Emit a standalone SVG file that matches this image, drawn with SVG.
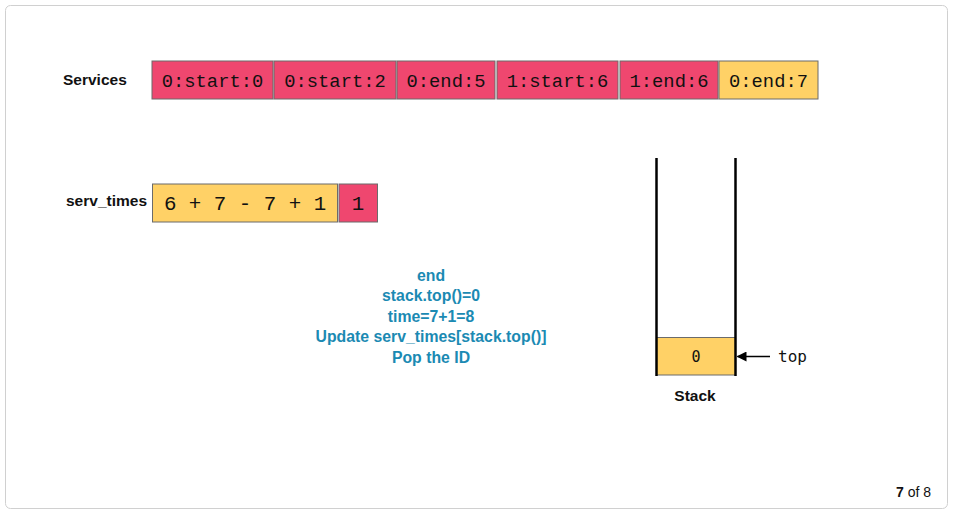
<svg xmlns="http://www.w3.org/2000/svg" width="954" height="513" viewBox="0 0 954 513">
<style>
.frame{fill:#fff;stroke:#d0d0d0;stroke-width:1}
.pink{fill:#ef476f;stroke:#6b6b6b;stroke-width:1}
.yel{fill:#ffd166;stroke:#6b6b6b;stroke-width:1}
.mono{font-family:"Liberation Mono","Courier New",monospace;fill:#111;text-anchor:middle}
.lbl{font-family:"Liberation Sans",Arial,sans-serif;font-weight:bold;font-size:15.5px;fill:#111}
.blue{font-family:"Liberation Sans",Arial,sans-serif;font-weight:bold;font-size:15.8px;fill:#1b8ab3;text-anchor:middle}
.dj{font-family:"DejaVu Sans Mono",monospace;fill:#111}
</style>
<defs>
<marker id="ah" markerWidth="10" markerHeight="10" refX="9" refY="5" orient="auto" markerUnits="userSpaceOnUse">
<path d="M0,0 L10,5 L0,10 z" fill="#000"/>
</marker>
</defs>
<rect class="frame" x="5.5" y="5.5" width="942" height="503" rx="5"/>
<g id="services">
<text class="lbl" x="63" y="85">Services</text>
<g id="s1"><rect class="pink" x="152" y="61" width="121" height="38"/><text class="mono" font-size="18.8" x="212.5" y="86.5">0:start:0</text></g>
<g id="s2"><rect class="pink" x="274" y="61" width="122" height="38"/><text class="mono" font-size="18.8" x="335" y="86.5">0:start:2</text></g>
<g id="s3"><rect class="pink" x="397" y="61" width="98" height="38"/><text class="mono" font-size="18.8" x="446" y="86.5">0:end:5</text></g>
<g id="s4"><rect class="pink" x="497" y="61" width="121" height="38"/><text class="mono" font-size="18.8" x="557.5" y="86.5">1:start:6</text></g>
<g id="s5"><rect class="pink" x="620" y="61" width="98" height="38"/><text class="mono" font-size="18.8" x="669" y="86.5">1:end:6</text></g>
<g id="s6"><rect class="yel" x="719" y="61" width="99" height="38"/><text class="mono" font-size="18.8" x="768.5" y="86.5">0:end:7</text></g>
</g>
<g id="servtimes">
<text class="lbl" x="66" y="206">serv_times</text>
<g id="t0"><rect class="yel" x="152.5" y="184" width="185" height="38"/><text class="mono" font-size="20.8" x="245" y="210">6 + 7 - 7 + 1</text></g>
<g id="t1"><rect class="pink" x="339" y="184" width="38.5" height="38"/><text class="mono" font-size="20.8" x="358" y="210">1</text></g>
</g>
<g id="note">
<text class="blue" x="431" y="281">end</text>
<text class="blue" x="431" y="301">stack.top()=0</text>
<text class="blue" x="431" y="321.5">time=7+1=8</text>
<text class="blue" x="431" y="342">Update serv_times[stack.top()]</text>
<text class="blue" x="431" y="362.5">Pop the ID</text>
</g>
<g id="stack">
<rect class="yel" x="656.5" y="337.5" width="79" height="37.5"/>
<line x1="656.5" y1="158" x2="656.5" y2="376" stroke="#000" stroke-width="2.5"/>
<line x1="735.5" y1="158" x2="735.5" y2="376" stroke="#000" stroke-width="2.5"/>
<text class="dj" font-size="15" x="696" y="362" text-anchor="middle">0</text>
<text class="lbl" x="695" y="401" text-anchor="middle">Stack</text>
</g>
<g id="connectors">
<line x1="770" y1="356.5" x2="737.5" y2="356.5" stroke="#000" stroke-width="1.5" marker-end="url(#ah)"/>
</g>
<text class="dj" font-size="16" x="778" y="362">top</text>
<text x="931" y="497" text-anchor="end" font-family="Liberation Sans,Arial,sans-serif" font-size="14" fill="#111"><tspan font-weight="bold">7</tspan> of 8</text>
</svg>
